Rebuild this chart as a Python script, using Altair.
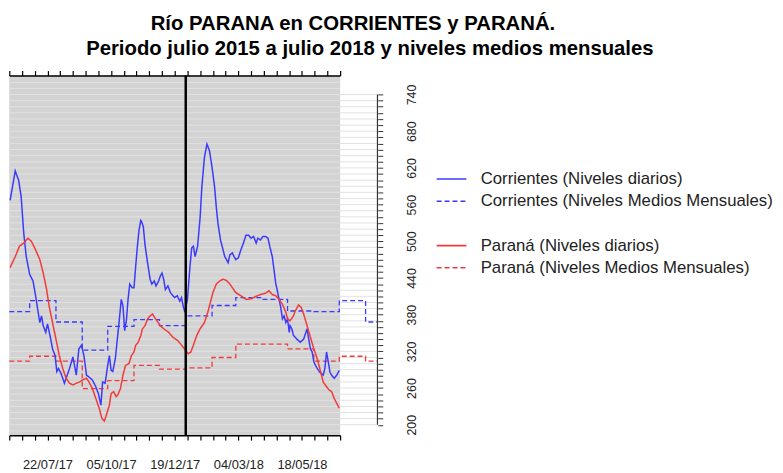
import altair as alt
import pandas as pd

# ---------------- data ----------------
INICIO = "2017-06-07"      # first tick of the date axis
FIN_EJE = "2018-07-02"     # last tick of the date axis
FIN_MED = "2018-08-15"     # end of the monthly means / right axis
CORTE = "2018-01-01"       # vertical black line

# Corrientes, daily levels (days after INICIO, level)
dias_corrientes = [1, 7, 11, 14, 17, 20, 24, 28, 31, 34,
                   36, 38, 40, 43, 45, 48, 51, 54, 56, 58,
                   61, 65, 67, 71, 75, 79, 82, 85, 88, 91,
                   94, 98, 102, 105, 108, 110, 113, 116, 118, 120,
                   122, 125, 127, 129, 132, 134, 136, 138, 140, 142,
                   145, 147, 149, 151, 153, 155, 156, 158, 160, 163,
                   166, 168, 171, 173, 176, 178, 180, 182, 184, 187,
                   190, 193, 195, 198, 201, 203, 205, 207, 210, 213,
                   215, 217, 219, 222, 225, 227, 230, 233, 236, 239,
                   242, 244, 246, 249, 252, 254, 258, 260, 263, 265,
                   267, 270, 273, 276, 279, 282, 285, 288, 291, 293,
                   296, 299, 302, 305, 307, 310, 312, 314, 316, 318,
                   320, 322, 324, 326, 328, 330, 331, 333, 335, 337,
                   339, 343, 347, 351, 353, 355, 357, 359, 361, 363,
                   366, 370, 372, 374, 376, 378, 380, 383, 386, 389]
nivel_corrientes = [567, 615, 600, 573, 514, 475, 446, 435, 411, 384,
                    367, 378, 362, 351, 365, 346, 324, 313, 287, 292,
                    284, 268, 276, 292, 311, 281, 324, 330, 313, 281,
                    278, 273, 262, 251, 232, 270, 268, 297, 313, 289,
                    287, 308, 335, 362, 405, 394, 354, 370, 405, 430,
                    424, 424, 459, 492, 519, 534, 532, 524, 494, 465,
                    438, 430, 435, 427, 435, 443, 448, 438, 421, 427,
                    416, 411, 408, 411, 402, 408, 394, 384, 405, 459,
                    489, 492, 475, 492, 540, 589, 637, 659, 648, 621,
                    589, 556, 529, 502, 486, 475, 465, 478, 481, 475,
                    470, 473, 486, 497, 510, 510, 505, 508, 497, 505,
                    502, 508, 508, 505, 492, 475, 454, 432, 419, 405,
                    392, 373, 378, 367, 373, 351, 362, 357, 346, 343,
                    340, 335, 340, 357, 340, 324, 319, 303, 297, 292,
                    286, 281, 292, 319, 303, 286, 281, 276, 281, 289]

# Paraná, daily levels
dias_parana = [1, 7, 12, 17, 22, 26, 31, 36, 40, 44,
               47, 51, 55, 59, 63, 67, 71, 75, 79, 83,
               86, 91, 94, 98, 102, 106, 109, 112, 114, 118,
               120, 123, 126, 128, 131, 134, 137, 141, 144, 147,
               149, 152, 155, 157, 160, 163, 166, 169, 171, 174,
               178, 182, 188, 193, 199, 205, 211, 214, 217, 221,
               225, 230, 234, 237, 240, 244, 248, 252, 256, 260,
               263, 267, 273, 279, 285, 291, 296, 302, 306, 310,
               314, 318, 322, 326, 328, 331, 335, 337, 341, 344,
               347, 351, 355, 359, 363, 366, 370, 374, 377, 380,
               383, 386, 389]
nivel_parana = [457, 475, 492, 497, 505, 500, 486, 470, 448, 421,
                394, 367, 340, 313, 292, 276, 268, 265, 268, 270,
                273, 276, 270, 259, 243, 227, 211, 206, 214, 232,
                251, 254, 246, 249, 259, 281, 297, 300, 313, 319,
                330, 335, 346, 357, 362, 373, 378, 381, 376, 370,
                362, 357, 351, 343, 337, 327, 316, 319, 330, 346,
                357, 367, 384, 400, 416, 430, 435, 438, 436, 430,
                424, 416, 411, 405, 406, 410, 413, 415, 419, 413,
                411, 405, 397, 384, 373, 370, 378, 386, 396, 392,
                381, 362, 343, 324, 308, 292, 270, 262, 257, 254,
                243, 235, 227]

# Monthly mean levels (step starts)
fechas_mensuales = ["2017-06-07", "2017-07-01", "2017-08-01", "2017-09-01",
                    "2017-10-01", "2017-11-01", "2017-12-01", "2018-01-01",
                    "2018-02-01", "2018-03-01", "2018-04-01", "2018-05-01",
                    "2018-06-01", "2018-07-01", "2018-08-01", FIN_MED]
corrientes_mensual = [385, 403, 368, 322, 361, 372, 362, 378,
                      395, 408, 405, 386, 385, 403, 368, 368]
parana_mensual = [304, 312, 304, 259, 272, 297, 291, 293,
                  310, 332, 332, 324, 304, 312, 304, 304]

series = ["Corrientes (Niveles diarios)",
          "Corrientes (Niveles Medios Mensuales)",
          " ",
          "Paraná (Niveles diarios)",
          "Paraná (Niveles Medios Mensuales)"]
colores = ["#3a3aff", "#3a3aff", "rgba(0,0,0,0)", "#f23a3a", "#f23a3a"]
trazos = [[1, 0], [5, 3], [1, 0], [1, 0], [5, 3]]

etiquetas_x = ["22/07/17", "05/10/17", "19/12/17", "04/03/18", "18/05/18"]
niveles_eje = list(range(200, 741, 10))
niveles_rejilla_extra = [190, 750, 760]

titulo = ["Río PARANA en CORRIENTES y PARANÁ." + "\u00a0" * 6 + "\u200b",
          "Periodo julio 2015 a julio 2018 y niveles medios mensuales"]

# ---------------- tables ----------------
t0 = pd.Timestamp(INICIO)


def fechas(dias):
    return (t0 + pd.to_timedelta(dias, unit="D")).strftime("%Y-%m-%d")


def dt(s):
    t = pd.Timestamp(s)
    return alt.DateTime(year=t.year, month=t.month, date=t.day, utc=True)


diario = pd.concat([
    pd.DataFrame({"fecha": fechas(dias_corrientes), "nivel": nivel_corrientes,
                  "serie": series[0]}),
    pd.DataFrame({"fecha": fechas(dias_parana), "nivel": nivel_parana,
                  "serie": series[3]}),
])
mensual = pd.concat([
    pd.DataFrame({"fecha": fechas_mensuales, "nivel": corrientes_mensual,
                  "serie": series[1]}),
    pd.DataFrame({"fecha": fechas_mensuales, "nivel": parana_mensual,
                  "serie": series[4]}),
])
rejilla = pd.concat([
    pd.DataFrame({"nivel": niveles_eje, "x0": INICIO, "x1": FIN_MED}),
    pd.DataFrame({"nivel": niveles_rejilla_extra, "x0": INICIO, "x1": FIN_EJE}),
])
eje_der = pd.DataFrame({"fecha": [FIN_MED], "y0": [200], "y1": [740]})
corte = pd.DataFrame({"fecha": [CORTE]})

tick_dias = pd.date_range(INICIO, FIN_EJE, freq="15D")
tick_vals = [dt(d) for d in tick_dias]

# ---------------- scales / axes ----------------
FONT = "Liberation Sans"
xs = alt.Scale(type="utc", domain=[dt(INICIO), dt(FIN_EJE)])
ys = alt.Scale(domain=[183, 771], nice=False, zero=False)
cs = alt.Scale(domain=series, range=colores)
ds = alt.Scale(domain=series, range=trazos)

lista = "[" + ",".join("'%s'" % e for e in etiquetas_x) + "]"
fmt = "utcFormat(datum.value, '%d/%m/%y')"
eje_x_inf = alt.Axis(orient="bottom", values=tick_vals, title=None, grid=False,
                     labelExpr=f"indexof({lista}, {fmt}) >= 0 ? {fmt} : ''",
                     tickSize=5, tickColor="black", tickWidth=1.2,
                     domainColor="black", domainWidth=1.5,
                     labelFont=FONT, labelFontSize=13, labelColor="#222",
                     labelPadding=19, labelOverlap=False, labelFlush=False)
eje_x_sup = alt.Axis(orient="top", values=tick_vals, title=None, grid=False,
                     labels=False, tickSize=5, tickColor="black", tickWidth=1.2,
                     domainColor="black", domainWidth=1.5)
eje_y = alt.Axis(orient="right", values=niveles_eje, title=None, grid=False,
                 offset=38, domain=False, tickSize=5, tickColor="#333",
                 tickWidth=1, labelExpr="(datum.value - 200) % 60 == 0 ? datum.label : ''",
                 labelAngle=270, labelAlign="center", labelBaseline="top",
                 labelPadding=23, labelFont=FONT, labelFontSize=12.5,
                 labelColor="#222", labelOverlap=False, labelFlush=False)

leyenda = alt.Legend(title=None, orient="none", legendX=438, legendY=96,
                     symbolType="M-3,0H3", symbolSize=100, symbolStrokeWidth=1.6,
                     labelFont=FONT, labelFontSize=16.9, labelColor="#222",
                     labelOffset=21, rowPadding=4.4, padding=0, labelLimit=500)

# ---------------- layers ----------------
capa_rejilla = alt.Chart(rejilla).mark_rule(color="#e2e2e2", strokeWidth=1).encode(
    x=alt.X("x0:T", scale=xs, axis=None), x2="x1:T",
    y=alt.Y("nivel:Q", scale=ys, axis=None))

capa_diaria = alt.Chart(diario).mark_line(strokeWidth=1.5).encode(
    x=alt.X("fecha:T", scale=xs, axis=eje_x_inf),
    y=alt.Y("nivel:Q", scale=ys, axis=eje_y),
    color=alt.Color("serie:N", scale=cs, legend=leyenda),
    strokeDash=alt.StrokeDash("serie:N", scale=ds, legend=leyenda))

capa_mensual = alt.Chart(mensual).mark_line(strokeWidth=1.3, interpolate="step-after").encode(
    x=alt.X("fecha:T", scale=xs, axis=None),
    y=alt.Y("nivel:Q", scale=ys, axis=None),
    color=alt.Color("serie:N", scale=cs, legend=leyenda),
    strokeDash=alt.StrokeDash("serie:N", scale=ds, legend=leyenda))

capa_corte = alt.Chart(corte).mark_rule(color="black", strokeWidth=2.5).encode(
    x=alt.X("fecha:T", scale=xs, axis=eje_x_sup))

capa_eje = alt.Chart(eje_der).mark_rule(color="#333", strokeWidth=1.2).encode(
    x=alt.X("fecha:T", scale=xs, axis=None),
    y=alt.Y("y0:Q", scale=ys, axis=None), y2="y1:Q")

chart = alt.layer(capa_rejilla, capa_mensual, capa_diaria, capa_corte, capa_eje).resolve_axis(
    x="independent", y="independent"
).properties(
    width=334, height=363,
    autosize=alt.AutoSizeParams(type="none"),
    padding={"left": 1.3, "top": 66, "right": 439, "bottom": 36},
    title=alt.TitleParams(text=titulo, font=FONT, fontSize=20.5, fontWeight="bold",
                          color="black", anchor="middle", frame="group",
                          dx=197, offset=-5, lineHeight=25, baseline="alphabetic"),
).configure_view(stroke=None, fill="#d3d3d3")

chart.save("out.html", embed_options={"renderer": "svg", "actions": False})
